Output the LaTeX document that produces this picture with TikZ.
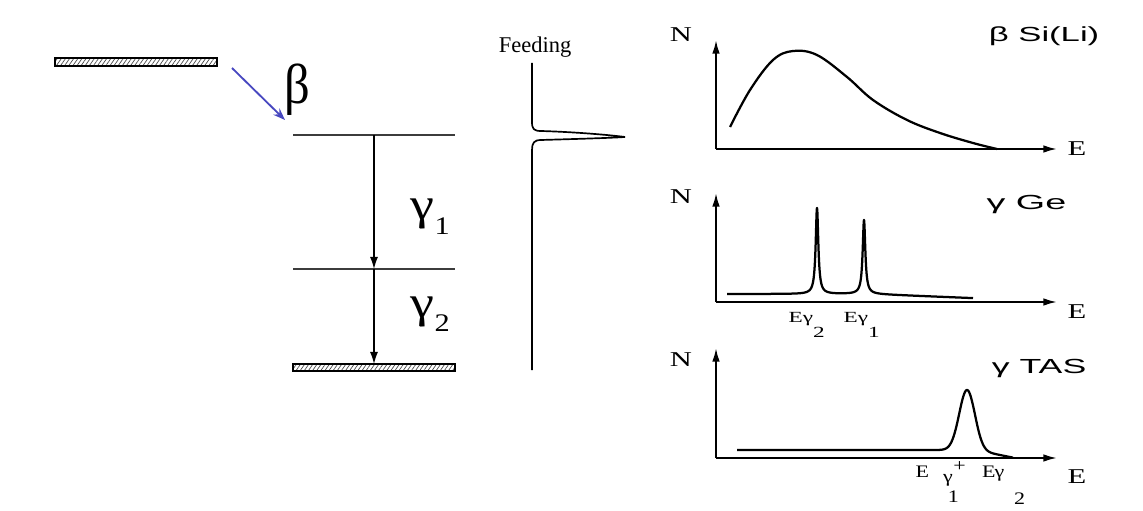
\documentclass[tikz,border=0pt]{standalone}
\usepackage{fontspec}
\setmainfont{Liberation Serif}
\setsansfont{Liberation Sans}
\usetikzlibrary{arrows.meta, patterns.meta}
\definecolor{cblue}{HTML}{4848C0}
\definecolor{clevel}{HTML}{3C3C3C}
\newcommand{\wtext}[2][1.45]{\scalebox{#1}[1]{#2}}
\tikzset{
  every picture/.style={line width=1pt},
  level/.style={draw=clevel, line width=0.9pt},
  ground/.style={draw=black, line width=1.1pt, pattern={Lines[angle=55, distance=2.4pt, line width=0.5pt]}, pattern color=black!70},
  trans/.style={-{Latex[length=3mm, width=2mm]}, line width=0.9pt},
  barrow/.style={-{Stealth[length=3mm, width=2.2mm]}, draw=cblue, line width=1.3pt},
  axis/.style={-{Latex[length=3.4mm, width=1.9mm]}, line width=1.4pt},
  spec/.style={line width=1.6pt, line join=round},
  sym/.style={inner sep=0pt, font=\fontsize{32}{32}\selectfont},
  axlab/.style={inner sep=0pt, font=\fontsize{15}{15}\selectfont},
  title/.style={inner sep=0pt, anchor=base east, font=\sffamily\fontsize{14.5}{15}\selectfont},
  elab/.style={inner sep=0pt, anchor=base west, font=\fontsize{11}{11}\selectfont},
}
\begin{document}
\begin{tikzpicture}[x=0.025cm, y=-0.025cm]
  \useasboundingbox (0,0) rectangle (1143,511);
  % level scheme
  \draw[ground] (55,58) rectangle (217,66);
  \coordinate (bfrom) at (232,68);
  \coordinate (bto) at (285,120);
  \draw[level] (293,135) -- (455,135);
  \draw[level] (293,269) -- (455,269);
  \draw[ground] (293,364) rectangle (455,371);
  \coordinate (lv1) at (374,135);
  \coordinate (lv2) at (374,269);
  \coordinate (lv0) at (374,364);
  \draw[barrow] (bfrom) -- (bto);
  \draw[trans] (lv1) -- (lv2);
  \draw[trans] (lv2) -- (lv0);
  \node[sym, font=\fontsize{40}{40}\selectfont] (beta) at (297,90) {\wtext[0.9]{β}};
  \node[sym, anchor=base west] (g1) at (410,220) {\wtext[1.2]{γ\raisebox{-0.33em}{\fontsize{18}{18}\selectfont 1}}};
  \node[sym, anchor=base west] (g2) at (410,317) {\wtext[1.2]{γ\raisebox{-0.33em}{\fontsize{18}{18}\selectfont 2}}};
  % feeding
  \node[font=\fontsize{16}{16}\selectfont, anchor=base, inner sep=0pt] (feed) at (535,53) {Feeding};
  \draw[line width=1.2pt] (532,63) -- (532,122) .. controls (532,129) and (534,131) .. (541,131)
    .. controls (575,132) and (610,135) .. (625,137) .. controls (610,138) and (575,139) .. (541,140)
    .. controls (534,140) and (532,143) .. (532,150) -- (532,370);
  % spectra
  \foreach \n/\o/\t in {a/149/40, b/302/193, c/458/348} {
    \coordinate (o\n) at (716,\o);
    \coordinate (t\n) at (716,\t);
    \coordinate (r\n) at (1057,\o);
    \draw[axis] (o\n) -- (t\n);
    \draw[axis] (o\n) -- (r\n);
  }
  \node[axlab] (na) at (681,35) {\wtext{N}};
  \node[axlab] (nb) at (681,197) {\wtext{N}};
  \node[axlab] (nc) at (681,360) {\wtext{N}};
  \node[axlab] (ea) at (1077,149) {\wtext{E}};
  \node[axlab] (eb) at (1077,312) {\wtext{E}};
  \node[axlab] (ec) at (1077,477) {\wtext{E}};
  \node[title] (ta) at (1100,42) {\wtext[1.7]{β Si(Li)}};
  \node[title] (tb) at (1067,210) {\wtext[1.85]{γ Ge}};
  \node[title] (tc) at (1087,373) {\wtext[1.75]{γ TAS}};
  \draw[spec] plot[smooth, tension=0.6] coordinates {(730,127) (750,90) (773,60) (793,51) (817,55)
    (847,77) (873,100) (907,120) (940,133) (973,143) (997,149)};
  \draw[spec] plot[domain=727:973, samples=1231]
    (\x, {294 + 0.04*max(0,\x-870) - 86/(1+((\x-817)/1.6)^2) - 74/(1+((\x-864)/1.6)^2)});
  \draw[spec] (737,450) -- (930,450) -- plot[domain=930:1013, samples=120]
    (\x, {450 + 0.2*max(0,\x-975) - 60*exp(-((\x-967)/11)^2)});
  \node[elab] (lg2) at (788,322) {\wtext[1.5]{Eγ\raisebox{-1em}{2}}};
  \node[elab] (lg1) at (843,322) {\wtext[1.5]{Eγ\raisebox{-1em}{1}}};
  \node[elab, font=\fontsize{12.5}{12.5}\selectfont] (ltas) at (915,477) {\wtext[1.25]{E\hspace{0.64em}\raisebox{-0.33em}{γ}\kern-0.23em\raisebox{-1.45em}{1}\kern-0.25em\raisebox{0.3em}{+}\hspace{0.75em}E\kern-0.05emγ\hspace{0.45em}\raisebox{-1.55em}{2}}};
\end{tikzpicture}
\end{document}
